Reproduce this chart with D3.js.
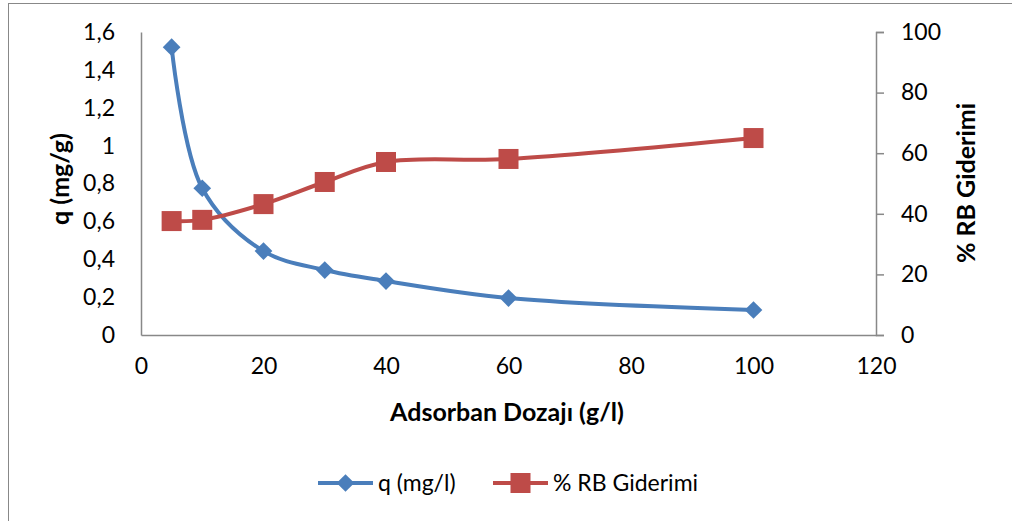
<!DOCTYPE html>
<html>
<head>
<meta charset="utf-8">
<script src="https://cdn.jsdelivr.net/npm/d3@7"></script>
<style>
  body { margin: 0; background: #fff; }
  text { font-family: Lato, "Open Sans", sans-serif; fill: #000; }
</style>
</head>
<body>
<svg id="chart" width="1012" height="521"></svg>
<script>
/** data **/
var dosage = [5, 10, 20, 30, 40, 60, 100];
var qValues = [1.52, 0.775, 0.443, 0.343, 0.285, 0.195, 0.132];
var removal = [37.6, 38.0, 43.2, 50.5, 57.1, 58.1, 65.0];
var xTicks = [0, 20, 40, 60, 80, 100, 120];
var leftTicks = [0, 0.2, 0.4, 0.6, 0.8, 1, 1.2, 1.4, 1.6];
var rightTicks = [0, 20, 40, 60, 80, 100];

var blue = "#4a7ebb", red = "#be4b48", grey = "#888";
var svg = d3.select("#chart");

// outer chart border
svg.append("rect").attr("x", 8.5).attr("y", 3.5).attr("width", 1100).attr("height", 600)
  .attr("fill", "none").attr("stroke", grey).attr("stroke-width", 1);

var x = d3.scaleLinear().domain([0, 120]).range([141, 876]);
var yL = d3.scaleLinear().domain([0, 1.6]).range([335, 32]);
var yR = d3.scaleLinear().domain([0, 100]).range([335, 32]);

var fmt = function(d) { return String(d).replace(".", ","); };

// x axis
var gx = svg.append("g").attr("transform", "translate(0,335)")
  .call(d3.axisBottom(x).tickValues(xTicks).tickSize(0).tickPadding(23));
gx.select(".domain").attr("stroke", grey).attr("stroke-width", 1.5);
gx.selectAll("text").style("font-size", "23px");

// left axis
var gl = svg.append("g").attr("transform", "translate(141,0)")
  .call(d3.axisLeft(yL).tickValues(leftTicks).tickFormat(fmt).tickSize(0).tickPadding(26));
gl.select(".domain").attr("stroke", grey).attr("stroke-width", 1.5);
gl.selectAll("text").style("font-size", "23px");

// right axis
var gr = svg.append("g").attr("transform", "translate(876,0)")
  .call(d3.axisRight(yR).tickValues(rightTicks).tickSizeOuter(0).tickSize(8).tickPadding(17));
gr.select(".domain").attr("stroke", grey).attr("stroke-width", 1.5);
gr.selectAll("line").attr("stroke", grey).attr("stroke-width", 1.5);
gr.selectAll("text").style("font-size", "23px");

// axis titles
svg.append("text").attr("x", 507).attr("y", 421).attr("text-anchor", "middle")
  .style("font-size", "25px").style("font-weight", "bold").text("Adsorban Dozajı (g/l)");
svg.append("text").attr("transform", "translate(69,179) rotate(-90)").attr("text-anchor", "middle")
  .style("font-size", "25px").style("font-weight", "bold").text("q (mg/g)");
svg.append("text").attr("transform", "translate(975,183) rotate(-90)").attr("text-anchor", "middle")
  .style("font-size", "25px").style("font-weight", "bold").text("% RB Giderimi");

// lines
var lineQ = d3.line().x(function(d, i) { return x(dosage[i]); }).y(function(d) { return yL(d); })
  .curve(d3.curveCatmullRom.alpha(0.5));
var lineR = d3.line().x(function(d, i) { return x(dosage[i]); }).y(function(d) { return yR(d); })
  .curve(d3.curveCatmullRom.alpha(0.5));

svg.append("path").datum(qValues).attr("d", lineQ)
  .attr("fill", "none").attr("stroke", blue).attr("stroke-width", 4);
svg.append("path").datum(removal).attr("d", lineR)
  .attr("fill", "none").attr("stroke", red).attr("stroke-width", 4);

// markers
var diamond = d3.symbol().type(d3.symbolDiamond2).size(200);
svg.selectAll(".mq").data(qValues).enter().append("path")
  .attr("transform", function(d, i) { return "translate(" + x(dosage[i]) + "," + yL(d) + ")"; })
  .attr("d", diamond).attr("fill", blue);

svg.selectAll(".mr").data(removal).enter().append("rect")
  .attr("x", function(d, i) { return x(dosage[i]) - 10; })
  .attr("y", function(d) { return yR(d) - 10; })
  .attr("width", 20).attr("height", 20).attr("fill", red);

// legend
var lg = svg.append("g");
lg.append("line").attr("x1", 318).attr("x2", 373).attr("y1", 483).attr("y2", 483)
  .attr("stroke", blue).attr("stroke-width", 4);
lg.append("path").attr("transform", "translate(345.5,483)").attr("d", diamond).attr("fill", blue);
lg.append("text").attr("x", 378).attr("y", 491).style("font-size", "23px").text("q (mg/l)");

lg.append("line").attr("x1", 493).attr("x2", 548).attr("y1", 483).attr("y2", 483)
  .attr("stroke", red).attr("stroke-width", 4);
lg.append("rect").attr("x", 510.5).attr("y", 473).attr("width", 20).attr("height", 20).attr("fill", red);
lg.append("text").attr("x", 553).attr("y", 491).style("font-size", "23px").text("% RB Giderimi");
</script>
</body>
</html>
